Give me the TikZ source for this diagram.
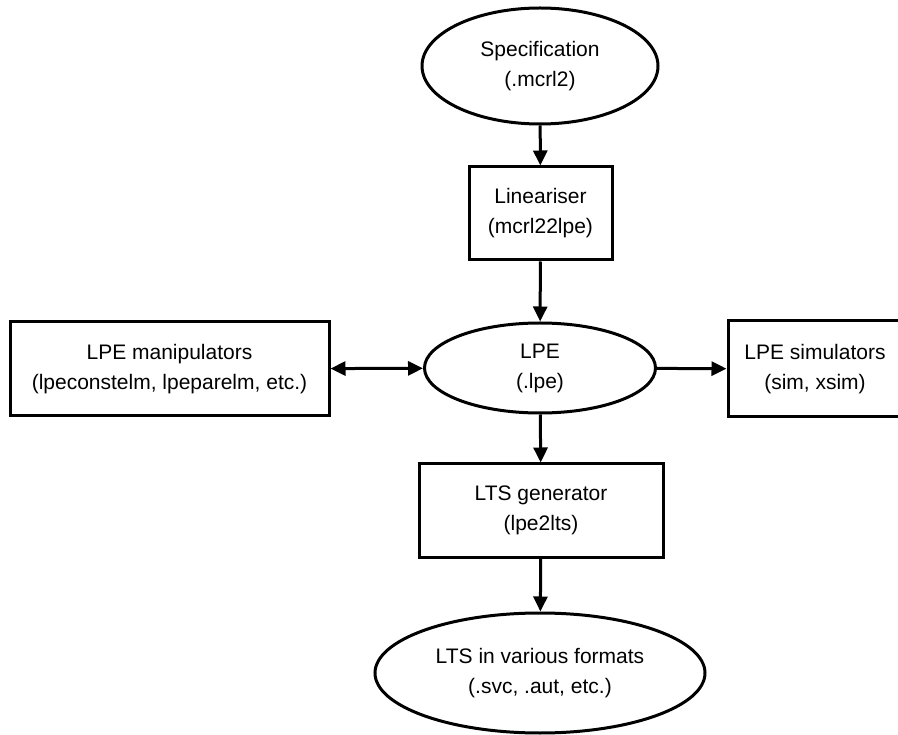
\documentclass[tikz,border=0pt]{standalone}
\usepackage{fontspec}
\setmainfont{Liberation Sans}
\usetikzlibrary{shapes.geometric,arrows.meta}
\tikzset{>={Triangle[length=15pt,width=14pt]}}
\tikzset{
	tool/.style={draw,line width=3pt,rectangle,align=center,inner sep=0pt},
	data/.style={draw,line width=3pt,ellipse,align=center,inner sep=0pt},
	flow/.style={line width=3pt},
}

\begin{document}
\begin{tikzpicture}[x=1pt,y=-1pt,font=\fontsize{21}{30}\selectfont]
	\useasboundingbox (0,0) rectangle (898,735);

	% the chain in the middle
	\node[data,minimum width=236pt,minimum height=116pt] (spec) at (540,66) {Specification\\(.mcrl2)};
	\node[tool,minimum width=143pt,minimum height=93pt] (lin) at (540.5,213.5) {Lineariser\\(mcrl22lpe)};
	\node[data,minimum width=231pt,minimum height=90pt] (lpe) at (540,368) {LPE\\(.lpe)};
	\node[tool,minimum width=244pt,minimum height=93pt] (gen) at (541,510.5) {LTS generator\\(lpe2lts)};
	\node[data,minimum width=330pt,minimum height=120pt] (lts) at (540,673) {LTS in various formats\\(.svc, .aut, etc.)};

	% tools at the sides
	\node[tool,minimum width=319pt,minimum height=94pt] (manip) at (169.5,369) {LPE manipulators\\(lpeconstelm, lpeparelm, etc.)};
	\node[tool,minimum width=174pt,minimum height=96pt] (sim) at (815,369) {LPE simulators\\(sim, xsim)};

	\draw[flow][->](spec)--(lin);
	\draw[flow][->](lin)--(lpe);
	\draw[flow][->](lpe)--(gen);
	\draw[flow][->](gen)--(lts);
	\draw[flow][<->](manip)--(lpe);
	\draw[flow][->](lpe)--(sim);
\end{tikzpicture}
\end{document}
